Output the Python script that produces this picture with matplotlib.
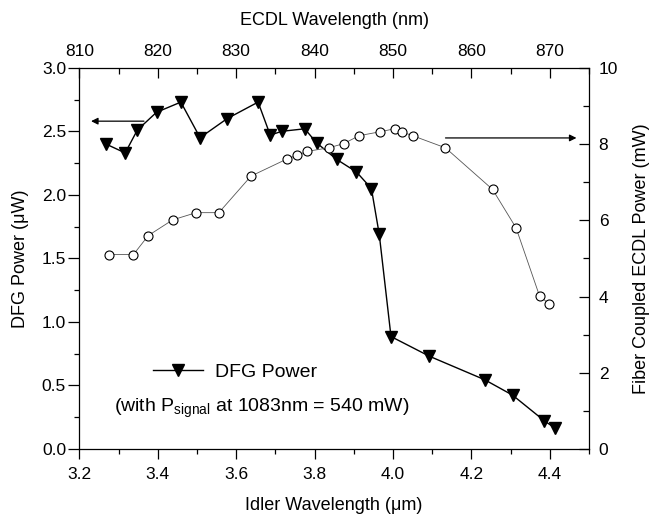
import matplotlib
matplotlib.use("Agg")
import matplotlib.pyplot as plt
from matplotlib.ticker import MultipleLocator, FormatStrFormatter

plt.rcParams['font.family'] = ['Liberation Sans', 'DejaVu Sans']
plt.rcParams['mathtext.fontset'] = 'custom'
plt.rcParams['mathtext.rm'] = 'Liberation Sans'
plt.rcParams['mathtext.it'] = 'Liberation Sans:italic'

# DFG power vs idler wavelength (um, uW)
idler_wl = [3.268, 3.317, 3.348, 3.397, 3.459, 3.508, 3.577, 3.656, 3.687, 3.716,
            3.775, 3.805, 3.856, 3.907, 3.945, 3.965, 3.995, 4.093, 4.234, 4.305,
            4.386, 4.413]
dfg_power = [2.40, 2.33, 2.51, 2.65, 2.73, 2.45, 2.60, 2.73, 2.47, 2.50,
             2.52, 2.41, 2.28, 2.18, 2.05, 1.69, 0.885, 0.73, 0.545, 0.424,
             0.222, 0.165]

# Fiber coupled ECDL power vs ECDL wavelength (nm, mW)
ecdl_wl = [813.8, 816.9, 818.8, 821.9, 824.9, 827.8, 831.9, 836.5, 837.7, 839.1,
           841.8, 843.7, 845.7, 848.3, 850.2, 851.1, 852.5, 856.7, 862.7, 865.7,
           868.7, 869.9]
ecdl_power = [5.10, 5.10, 5.60, 6.01, 6.20, 6.20, 7.16, 7.61, 7.70, 7.81,
              7.90, 8.01, 8.22, 8.32, 8.40, 8.32, 8.22, 7.90, 6.81, 5.80,
              4.01, 3.81]

fig = plt.figure(figsize=(6.53, 5.14), dpi=100)
pos = [79.3/653, 1 - 449/514, (589 - 79.3)/653, (449 - 67.8)/514]
ax = fig.add_axes(pos)
ax2 = fig.add_axes(pos, frameon=False)

TICK_FS = 12.5
LABEL_FS = 13

# main axes: bottom / left
dfg_line, = ax.plot(idler_wl, dfg_power, color='black', lw=1.0, marker='v',
                    markersize=8.5, markerfacecolor='black', markeredgecolor='black',
                    zorder=3)
ax.set_xlim(3.2, 4.5)
ax.set_ylim(0, 3.0)
ax.xaxis.set_major_locator(MultipleLocator(0.2))
ax.xaxis.set_minor_locator(MultipleLocator(0.1))
ax.yaxis.set_major_locator(MultipleLocator(0.5))
ax.yaxis.set_minor_locator(MultipleLocator(0.25))
ax.xaxis.set_major_formatter(FormatStrFormatter('%.1f'))
ax.yaxis.set_major_formatter(FormatStrFormatter('%.1f'))
ax.tick_params(axis='both', which='both', direction='out', labelsize=TICK_FS,
               top=False, right=False, width=0.9)
ax.tick_params(axis='x', which='major', length=7, pad=6)
ax.tick_params(axis='y', which='major', length=8, pad=1.5)
ax.tick_params(axis='both', which='minor', length=3.5)
ax.set_xlabel('Idler Wavelength (μm)', fontsize=LABEL_FS, labelpad=11)
ax.set_ylabel('DFG Power (μW)', fontsize=LABEL_FS, labelpad=9)
for s in ax.spines.values():
    s.set_linewidth(0.9)

# overlay axes: top / right
ax2.plot(ecdl_wl, ecdl_power, color='#555555', lw=0.6, marker='o', markersize=6.5,
         markerfacecolor='white', markeredgecolor='black', markeredgewidth=0.8,
         zorder=2)
ax2.set_xlim(810, 875)
ax2.set_ylim(0, 10)
ax2.xaxis.set_label_position('top')
ax2.xaxis.tick_top()
ax2.yaxis.set_label_position('right')
ax2.yaxis.tick_right()
ax2.xaxis.set_major_locator(MultipleLocator(10))
ax2.xaxis.set_minor_locator(MultipleLocator(5))
ax2.yaxis.set_major_locator(MultipleLocator(2))
ax2.yaxis.set_minor_locator(MultipleLocator(1))
ax2.tick_params(axis='both', which='both', direction='in', labelsize=TICK_FS, width=0.9)
ax2.tick_params(axis='both', which='major', length=7)
ax2.tick_params(axis='both', which='minor', length=4)
ax2.tick_params(axis='x', which='major', pad=6)
ax2.tick_params(axis='y', which='major', pad=7)
ax2.set_xlabel('ECDL Wavelength (nm)', fontsize=LABEL_FS, labelpad=14)
ax2.set_ylabel('Fiber Coupled ECDL Power (mW)', fontsize=LABEL_FS, labelpad=11)

# arrows indicating axes
ax.annotate('', xy=(3.23, 2.58), xytext=(3.365, 2.58),
            arrowprops=dict(arrowstyle='-|>', color='black', lw=0.9,
                            mutation_scale=10, shrinkA=0, shrinkB=0))
ax2.annotate('', xy=(873.4, 8.16), xytext=(856.7, 8.16),
             arrowprops=dict(arrowstyle='-|>', color='black', lw=0.9,
                             mutation_scale=10, shrinkA=0, shrinkB=0))

# legend
leg = ax.legend(handles=[dfg_line], labels=['DFG Power'], loc='center left',
                bbox_to_anchor=(0.144, 0.202), frameon=False, fontsize=14,
                handlelength=2.6, handletextpad=0.6, borderpad=0,
                borderaxespad=0, numpoints=1)
ax.text(0.068, 0.107, r'(with P$_{\mathrm{signal}}$ at 1083nm = 540 mW)',
        transform=ax.transAxes, fontsize=14, ha='left', va='center')

fig.savefig('out.png', dpi=100)
